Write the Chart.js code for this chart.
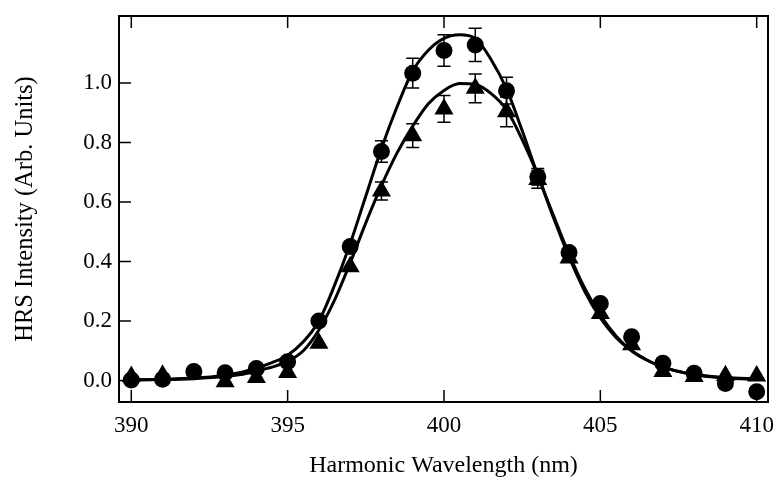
<!DOCTYPE html>
<html><head><meta charset="utf-8">
<script src="https://cdn.jsdelivr.net/npm/chart.js@4.4.1/dist/chart.umd.min.js"></script>
<style>html,body{margin:0;padding:0;background:#fff}#wrap{width:776px;height:478px}</style>
</head><body><div id="wrap"><canvas id="c" width="776" height="478"></canvas></div>
<script>
// ---- data ----
const wavelengths = [390,391,392,393,394,395,396,397,398,399,400,401,402,403,404,405,406,407,408,409,410];
const circleVals  = [0.002,0.004,0.030,0.026,0.040,0.063,0.200,0.450,0.770,1.033,1.109,1.128,0.974,0.685,0.430,0.259,0.147,0.058,0.024,-0.010,-0.038];
const triangleVals= [0.013,0.018,null,-0.004,0.010,0.027,0.125,0.382,0.637,0.823,0.913,0.982,0.903,0.676,0.412,0.225,0.120,0.030,0.013,0.016,0.015];
const circleErr   = [null,null,null,null,null,null,null,null,0.036,0.050,0.053,0.056,0.045,0.028,null,null,null,null,null,null,null];
const triangleErr = [null,null,null,null,null,null,null,null,0.030,0.040,0.045,0.048,0.050,0.030,null,null,null,null,null,null,null];

const fitX       = [390,391,392,393,393.5,394,394.5,395,395.5,396,396.5,397,397.5,398,398.5,399,399.5,400,400.5,401,401.5,402,402.5,403,403.5,404,404.5,405,405.5,406,406.5,407,408,409,410];
const circleFit  = [0.002,0.004,0.008,0.018,0.027,0.042,0.060,0.085,0.130,0.200,0.320,0.460,0.620,0.780,0.920,1.040,1.110,1.150,1.162,1.150,1.080,0.980,0.840,0.690,0.555,0.425,0.310,0.220,0.150,0.100,0.068,0.045,0.020,0.008,0.004];
const triangleFit= [0.002,0.003,0.006,0.013,0.020,0.032,0.045,0.064,0.100,0.170,0.270,0.395,0.530,0.655,0.765,0.855,0.930,0.975,0.998,0.995,0.965,0.910,0.810,0.690,0.548,0.415,0.300,0.210,0.145,0.100,0.068,0.045,0.020,0.010,0.005];

const xTicks = [390,395,400,405,410];
const yTicks = [0.0,0.2,0.4,0.6,0.8,1.0];
const xTitle = 'Harmonic Wavelength (nm)';
const yTitle = 'HRS Intensity (Arb. Units)';

// ---- axis ranges ----
const xMin = 389.607, xMax = 410.362;
const yMin = -0.0723, yMax = 1.2252;

const FONT = "'Liberation Serif', 'Times New Roman', serif";
Chart.defaults.font.family = FONT;
Chart.defaults.color = '#000';

const toPts = (xs, ys) => xs.map((x,i)=>({x, y: ys[i]})).filter(p => p.y !== null);

const framePlugin = {
  id: 'frame',
  afterDraw(chart) {
    const {ctx, chartArea: a} = chart;
    ctx.save();
    ctx.strokeStyle = '#000'; ctx.lineWidth = 2;
    ctx.strokeRect(a.left, a.top, a.right - a.left, a.bottom - a.top);
    // inward tick marks
    ctx.lineWidth = 1.5;
    const xs = chart.scales.x, ys = chart.scales.y, L = 12;
    ctx.beginPath();
    xs.ticks.forEach(t => {
      const px = xs.getPixelForValue(t.value);
      ctx.moveTo(px, a.bottom); ctx.lineTo(px, a.bottom - L);
      ctx.moveTo(px, a.top); ctx.lineTo(px, a.top + L);
    });
    ys.ticks.forEach(t => {
      const py = ys.getPixelForValue(t.value);
      ctx.moveTo(a.left, py); ctx.lineTo(a.left + L, py);
    });
    ctx.stroke();
    ctx.restore();
  }
};

const errPlugin = {
  id: 'errbars',
  beforeDatasetsDraw(chart) {
    const {ctx} = chart;
    const xs = chart.scales.x, ys = chart.scales.y;
    ctx.save();
    ctx.strokeStyle = '#000'; ctx.lineWidth = 1.5;
    const draw = (vals, errs) => {
      wavelengths.forEach((w, i) => {
        if (vals[i] === null || errs[i] === null) return;
        const px = xs.getPixelForValue(w);
        const y1 = ys.getPixelForValue(vals[i] + errs[i]);
        const y2 = ys.getPixelForValue(vals[i] - errs[i]);
        ctx.beginPath();
        ctx.moveTo(px, y1); ctx.lineTo(px, y2);
        ctx.moveTo(px - 6.5, y1); ctx.lineTo(px + 6.5, y1);
        ctx.moveTo(px - 6.5, y2); ctx.lineTo(px + 6.5, y2);
        ctx.stroke();
      });
    };
    draw(circleVals, circleErr);
    draw(triangleVals, triangleErr);
    ctx.restore();
  }
};

new Chart(document.getElementById('c'), {
  type: 'scatter',
  data: {
    datasets: [
      { data: toPts(fitX, circleFit), showLine: true, borderColor: '#000', borderWidth: 3, pointRadius: 0, cubicInterpolationMode: 'monotone', fill: false },
      { data: toPts(fitX, triangleFit), showLine: true, borderColor: '#000', borderWidth: 3, pointRadius: 0, cubicInterpolationMode: 'monotone', fill: false },
      { data: toPts(wavelengths, circleVals), showLine: false, pointStyle: 'circle', pointRadius: 8.5, backgroundColor: '#000', borderColor: '#000', borderWidth: 0 },
      { data: toPts(wavelengths, triangleVals), showLine: false, pointStyle: 'triangle', pointRadius: 11, backgroundColor: '#000', borderColor: '#000', borderWidth: 0 }
    ]
  },
  options: {
    responsive: false, animation: false, devicePixelRatio: 1, events: [],
    layout: { padding: { left: 0, top: 16, right: 8, bottom: 0 }, autoPadding: false },
    plugins: { legend: { display: false }, tooltip: { enabled: false } },
    scales: {
      x: {
        type: 'linear', position: 'bottom', min: xMin, max: xMax,
        grid: { display: false, drawTicks: false, tickLength: 0 }, border: { display: false },
        ticks: { font: { size: 23, lineHeight: 1 }, padding: 12, color: '#000', maxRotation: 0, autoSkip: false, callback: v => String(v) },
        afterBuildTicks: s => { s.ticks = xTicks.map(v => ({ value: v })); },
        afterFit: s => { s.height = 76; s.paddingLeft = 0; s.paddingRight = 0; },
        title: { display: true, text: xTitle, color: '#000', font: { size: 24, lineHeight: 1 }, padding: { top: 0, bottom: 0 } }
      },
      y: {
        type: 'linear', position: 'left', min: yMin, max: yMax,
        grid: { display: false, drawTicks: false, tickLength: 0 }, border: { display: false },
        ticks: { font: { size: 23, lineHeight: 1 }, padding: 7, color: '#000', autoSkip: false, callback: v => Number(v).toFixed(1) },
        afterBuildTicks: s => { s.ticks = yTicks.map(v => ({ value: v })); },
        afterFit: s => { s.width = 119; s.paddingTop = 0; s.paddingBottom = 0; },
        title: { display: true, text: yTitle, color: '#000', font: { size: 24.5, lineHeight: 1 }, padding: { top: 13, bottom: 0 } }
      }
    }
  },
  plugins: [framePlugin, errPlugin]
});
</script>
</body></html>
